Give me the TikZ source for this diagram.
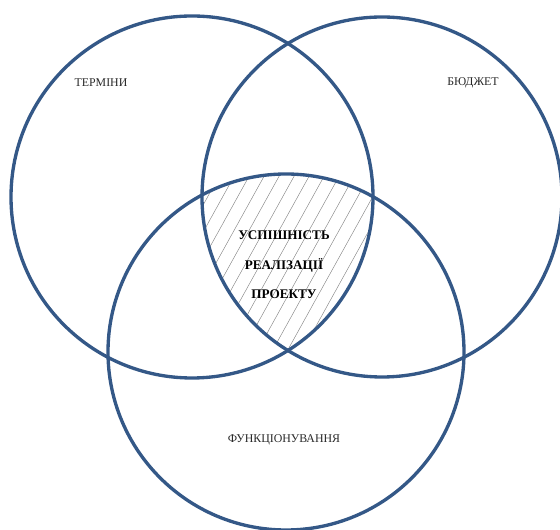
\documentclass[tikz,border=0pt]{standalone}
\usepackage{fontspec}
\setmainfont{Liberation Serif}
\usetikzlibrary{positioning}
\definecolor{ringblue}{RGB}{52,88,135}
\definecolor{labelgray}{RGB}{40,40,40}
\definecolor{hatchgray}{RGB}{130,130,130}

\begin{document}
\begin{tikzpicture}[
  every node/.style={font=\fontsize{13.5}{16}\selectfont, text=labelgray},
  ring/.style={circle, draw=ringblue, line width=3.8pt, inner sep=0pt},
  hatch/.style={draw=hatchgray, line width=0.5pt},
  core/.style={font=\bfseries\fontsize{15}{33.5}\selectfont, text=black, align=center},
]

%% Frame of the picture
\useasboundingbox (0, 0) rectangle (22.4, 21.2);

%% Centres of the three circles
\coordinate (ct) at (7.68, 13.32);
\coordinate (cb) at (15.28, 13.32);
\coordinate (cf) at (11.44, 7.12);

%% Hatched common part
\begin{scope}
  \clip (ct) circle (7.24);
  \clip (cb) circle (7.2);
  \clip (cf) circle (7.12);
  \foreach \x in {3.0, 3.6, ..., 15.6}
    \draw[hatch] (\x, 7) -- ++(61:9);
\end{scope}

%% Circles
\node[ring, minimum size=14.48cm] (terms)  at (ct) {};
\node[ring, minimum size=14.4cm]  (budget) at (cb) {};
\node[ring, minimum size=14.24cm] (func)   at (cf) {};

%% Labels
\node (termlbl)   at (4.04, 17.88)  {ТЕРМІНИ};
\node (budgetlbl) at (18.92, 17.88) {БЮДЖЕТ};
\node (funclbl)   at (11.36, 3.6)   {ФУНКЦІОНУВАННЯ};
\node[core] (success) at (11.36, 10.6) {УСПІШНІСТЬ\\РЕАЛІЗАЦІЇ\\ПРОЕКТУ};

\end{tikzpicture}
\end{document}
